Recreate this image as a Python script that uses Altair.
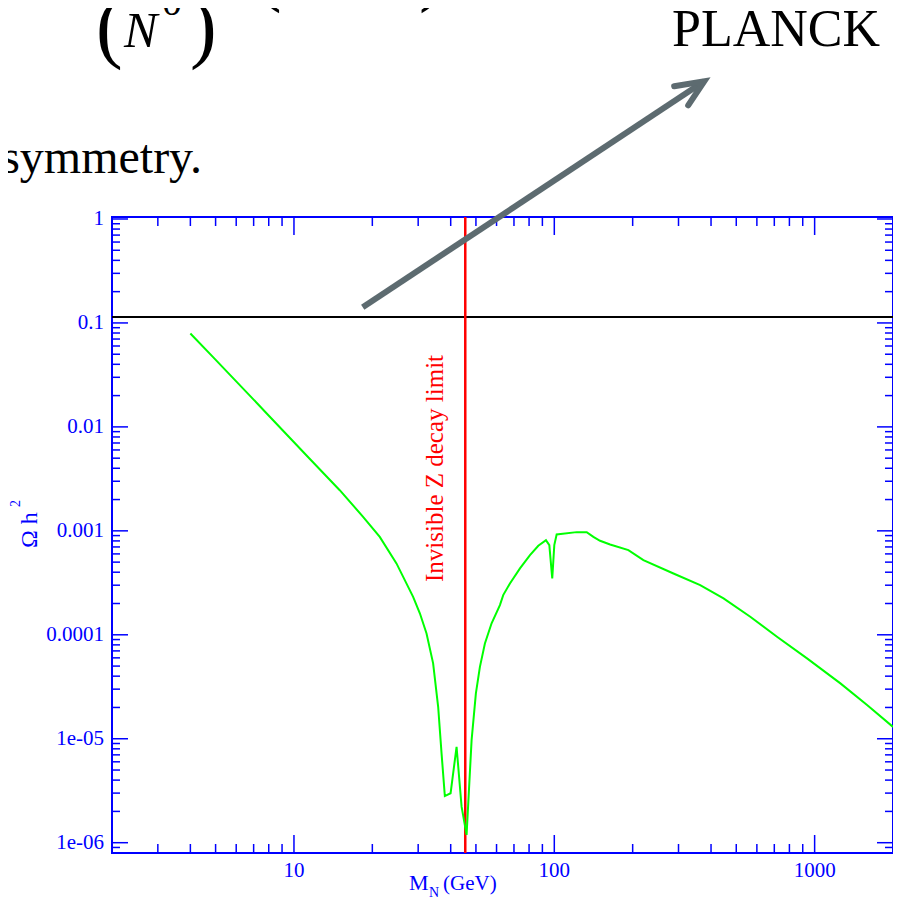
import altair as alt
import pandas as pd

# ---------------- data ----------------
mass = [4.0, 4.88, 6.57, 8.06, 11.49, 14.99, 18.43, 21.36, 24.76, 28.69,
        30.45, 32.30, 34.24, 35.80, 36.89, 37.98, 39.96, 42.13, 44.04, 46.03,
        48.12, 49.98, 51.79, 54.13, 57.43, 61.82, 63.65, 67.54, 73.81, 80.65,
        86.8, 92.9, 95.7, 98.2, 100.0, 102.1, 121.9, 133.2, 141.3, 149.9,
        163.8, 192.6, 219.9, 286.9, 363.4, 446.7, 565.9, 716.9, 935.0, 1256.0,
        1590.0, 2000.0]
omega = [0.0791, 0.0471, 0.0216, 0.0126, 0.00494, 0.00246, 0.001365, 0.000875, 0.000486, 0.000232,
         0.000161, 0.000103, 5.31e-5, 2.03e-5, 7.24e-6, 2.81e-6, 2.99e-6, 8.37e-6, 2.22e-6, 1.19e-6,
         9.71e-6, 2.73e-5, 4.92e-5, 8.26e-5, 1.29e-4, 1.93e-4, 2.41e-4, 3.12e-4, 4.35e-4, 5.83e-4,
         7.18e-4, 8.15e-4, 7.29e-4, 3.48e-4, 7.29e-4, 9.22e-4, 9.72e-4, 9.72e-4, 8.75e-4, 8.02e-4,
         7.40e-4, 6.52e-4, 5.22e-4, 3.89e-4, 3.01e-4, 2.24e-4, 1.49e-4, 9.57e-5, 5.93e-5, 3.41e-5,
         2.11e-5, 1.30e-5]

planck_omega = [0.114]
z_limit_mass = [45.5]

# arrow (in data coordinates, drawn outside the frame)
arrow_shaft_x = [18.37, 376.6]
arrow_shaft_y = [0.1416, 21.1]
arrow_head_x = [288.7, 376.6, 326.8]
arrow_head_y = [18.9, 21.1, 12.4]

x_major = [10, 100, 1000]
x_labels = ["10", "100", "1000"]
x_minor = [3, 4, 5, 6, 7, 8, 9, 20, 30, 40, 50, 60, 70, 80, 90,
           200, 300, 400, 500, 600, 700, 800, 900]
y_major = [1e-6, 1e-5, 1e-4, 1e-3, 1e-2, 1e-1, 1.0]
y_labels = ["1e-06", "1e-05", "0.0001", "0.001", "0.01", "0.1", "1"]
y_minor = [v for v in [k * 10.0 ** e for e in range(-7, 0) for k in range(2, 10)] if v > 8.5e-7]

# ---------------- styling ----------------
W, H = 781, 636
BLUE = "#0000ff"
SERIF = "Liberation Serif"

xs = alt.Scale(type="log", domain=[2, 2000], nice=False)
ys = alt.Scale(type="log", domain=[7.96e-7, 1.045], nice=False)

curve_df = pd.DataFrame({"m": mass, "o": omega, "i": range(len(mass))})

curve = alt.Chart(curve_df).mark_line(color="#00ff00", strokeWidth=2).encode(
    x=alt.X("m:Q", scale=xs, axis=None),
    y=alt.Y("o:Q", scale=ys, axis=None),
    order="i:Q",
)

planck = alt.Chart(pd.DataFrame({"o": planck_omega})).mark_rule(color="black", strokeWidth=2).encode(
    y=alt.Y("o:Q", scale=ys, axis=None)
)
zline = alt.Chart(pd.DataFrame({"m": z_limit_mass})).mark_rule(color="#ff0000", strokeWidth=2.5).encode(
    x=alt.X("m:Q", scale=xs, axis=None)
)


def xticks(vals, length):
    df = pd.DataFrame({"v": vals})
    bot = alt.Chart(df).mark_rule(color=BLUE, strokeWidth=1.5).encode(
        x=alt.X("v:Q", scale=xs, axis=None), y=alt.value(H), y2=alt.value(H - length))
    top = alt.Chart(df).mark_rule(color=BLUE, strokeWidth=1.5).encode(
        x=alt.X("v:Q", scale=xs, axis=None), y=alt.value(0), y2=alt.value(length))
    return [bot, top]


def yticks(vals, length):
    df = pd.DataFrame({"v": vals})
    left = alt.Chart(df).mark_rule(color=BLUE, strokeWidth=1.5).encode(
        y=alt.Y("v:Q", scale=ys, axis=None), x=alt.value(0), x2=alt.value(length))
    right = alt.Chart(df).mark_rule(color=BLUE, strokeWidth=1.5).encode(
        y=alt.Y("v:Q", scale=ys, axis=None), x=alt.value(W), x2=alt.value(W - length))
    return [left, right]


ticks = xticks(x_major, 18) + xticks(x_minor, 9) + yticks(y_major, 16) + yticks(y_minor, 8)

# tick labels drawn through the scales
xlab = alt.Chart(pd.DataFrame({"v": x_major, "t": x_labels})).mark_text(
    font=SERIF, fontSize=21, color=BLUE, align="center", baseline="top").encode(
    x=alt.X("v:Q", scale=xs, axis=None), y=alt.value(H + 7), text="t:N")
ylab = alt.Chart(pd.DataFrame({"v": y_major, "t": y_labels})).mark_text(
    font=SERIF, fontSize=21, color=BLUE, align="right", baseline="middle").encode(
    y=alt.Y("v:Q", scale=ys, axis=None), x=alt.value(-8), text="t:N")

GRAY = "#5d6b70"
shaft = alt.Chart(pd.DataFrame({"x": [arrow_shaft_x[0]], "x2": [arrow_shaft_x[1]],
                                "y": [arrow_shaft_y[0]], "y2": [arrow_shaft_y[1]]})).mark_rule(
    color=GRAY, strokeWidth=6, strokeCap="butt", clip=False).encode(
    x=alt.X("x:Q", scale=xs, axis=None), x2="x2:Q",
    y=alt.Y("y:Q", scale=ys, axis=None), y2="y2:Q")
head = alt.Chart(pd.DataFrame({"x": arrow_head_x, "y": arrow_head_y, "i": [0, 1, 2]})).mark_line(
    color=GRAY, strokeWidth=6, strokeCap="round", strokeJoin="miter", clip=False).encode(
    x=alt.X("x:Q", scale=xs, axis=None), y=alt.Y("y:Q", scale=ys, axis=None), order="i:Q")

one = pd.DataFrame({"a": [0]})


def label(text, x, y, size, color="black", angle=0, align="left", baseline="alphabetic", style="normal"):
    return alt.Chart(one).mark_text(text=text, font=SERIF, fontSize=size, color=color, angle=angle,
                                    align=align, baseline=baseline, fontStyle=style).encode(
        x=alt.value(x), y=alt.value(y))


texts = [
    label("Invisible Z decay limit", 331, 365, 25, color="#ff0000", angle=270),
    label("Ω h", -75, 331, 24, color=BLUE, angle=270),
    label("2", -92, 290, 14, color=BLUE, angle=270),
    label("M", 297, 673, 22, color=BLUE),
    label("N", 317, 680, 14, color=BLUE),
    label("(GeV)", 331, 673, 21, color=BLUE),
    label("PLANCK", 560, -171, 52),
    label("symmetry.", 90, -44, 48, align="right"),
    label("N", 12, -170, 50, style="italic"),
    label("0", 50, -202, 40),
    label("(", -16, -164, 80),
    label(")", 78, -164, 80),
    label("(", 143, -221, 80),
    label(")", 307, -221, 80),
]

chart = alt.layer(*ticks, planck, zline, curve, shaft, head, xlab, ylab, *texts).properties(
    width=W, height=H,
    autosize=alt.AutoSizeParams(type="none"),
    padding={"left": 104, "top": 209, "right": 0, "bottom": 44},
    background="white",
).configure_view(stroke=BLUE, strokeWidth=2)

chart.save("out.html", embed_options={"renderer": "svg", "actions": False})
